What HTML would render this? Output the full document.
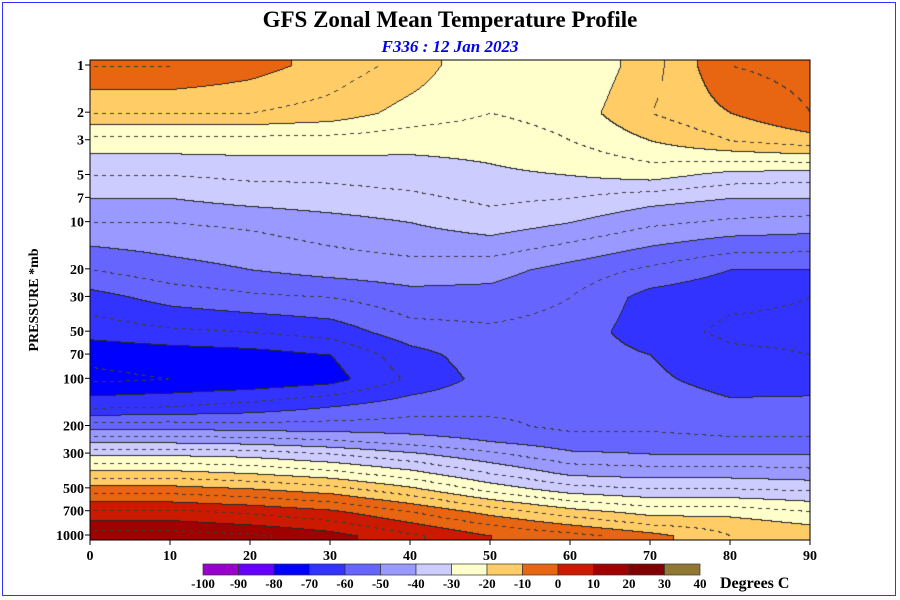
<!DOCTYPE html>
<html><head><meta charset="utf-8"><style>
body{margin:0;background:#fff;}
#wrap{position:relative;width:900px;height:600px;overflow:hidden;font-family:"Liberation Serif",serif;}
#border{position:absolute;left:2px;top:2px;width:894px;height:594px;border:1px solid #3333ff;box-sizing:border-box;}
canvas{position:absolute;left:90px;top:60px;}
.t{position:absolute;font-weight:bold;white-space:nowrap;}
</style></head><body>
<div id="wrap">
<div id="border"></div>
<div class="t" style="left:0;width:900px;text-align:center;top:7px;font-size:23px;">GFS Zonal Mean Temperature Profile</div>
<div class="t" style="left:0;width:900px;text-align:center;top:37px;font-size:17px;color:#0000ee;font-style:italic;">F336 : 12 Jan 2023</div>
<canvas id="cv" width="720" height="480"></canvas>
<svg id="svg" width="900" height="600" style="position:absolute;left:0;top:0"></svg>
</div>
<script>
const lats=[0,10,20,30,40,50,60,70,80,90];
const pressures=[1,2,3,5,7,10,20,30,50,70,100,150,200,250,300,400,500,700,850,1000];
const temps=[
[-5,-5,-8,-12,-17,-25,-25,-17,-5,-3],
[-15,-15,-15,-17,-22,-25,-23,-15,-10,-5],
[-27,-27,-27,-27,-28,-28,-25,-20,-15,-12],
[-35,-35,-34,-34,-33,-31,-30,-28,-32,-33],
[-40,-40,-38,-37,-36,-34,-35,-38,-40,-40],
[-45,-45,-44,-42,-40,-37,-40,-44,-46,-47],
[-55,-52,-50,-48,-47,-48,-52,-56,-60,-60],
[-62,-58,-56,-55,-52,-52,-55,-62,-64,-65],
[-68,-66,-65,-63,-57,-56,-57,-63,-66,-66],
[-74,-73,-72,-70,-62,-57,-57,-60,-64,-65],
[-76,-75,-74,-72,-64,-58,-57,-59,-62,-63],
[-66,-65,-63,-60,-57,-56,-56,-57,-59,-58],
[-52,-52,-53,-53,-53,-54,-56,-56,-57,-57],
[-41,-41,-42,-44,-47,-50,-53,-53,-54,-54],
[-31,-31,-32,-35,-39,-44,-49,-50,-50,-50],
[-18,-18,-20,-23,-28,-35,-41,-42,-42,-43],
[-8,-8,-10,-13,-19,-27,-33,-35,-35,-36],
[6,6,4,1,-5,-12,-18,-22,-22,-25],
[12,12,10,7,1,-5,-10,-15,-17,-20],
[18,18,16,12,6,0,-3,-8,-15,-20]];
const binEdges=[-100,-90,-80,-70,-60,-50,-40,-30,-20,-10,0,10,20,30,40];
const binColors=['#9900cc','#6600ff','#0000ff','#3333ff','#6666ff','#9999ff','#ccccff','#ffffcc','#ffcc66','#e86511','#cc1a00','#a00000','#800000','#917832'];
const xTicks=[0,10,20,30,40,50,60,70,80,90];
const yTicks=[1,2,3,5,7,10,20,30,50,70,100,200,300,500,700,1000];

const X0=90,X1=810,Y0=65,Y1=535;
const xs=v=>X0+(v-0)/90*(X1-X0);
const ys=p=>Y0+Math.log10(p)/3*(Y1-Y0);
function hex(c){return [parseInt(c.substr(1,2),16),parseInt(c.substr(3,2),16),parseInt(c.substr(5,2),16)];}
const rgb=binColors.map(hex);
function field(lat,p){
  const lp=Math.log10(p);
  let i=0;while(i<pressures.length-2&&Math.log10(pressures[i+1])<lp)i++;
  const a=Math.log10(pressures[i]),b=Math.log10(pressures[i+1]);
  let ty=Math.max(0,Math.min(1,(lp-a)/(b-a)));
  let j=Math.min(8,Math.floor(lat/10));let tx=Math.max(0,Math.min(1,(lat-lats[j])/10));
  const v00=temps[i][j],v01=temps[i][j+1],v10=temps[i+1][j],v11=temps[i+1][j+1];
  return (v00*(1-tx)+v01*tx)*(1-ty)+(v10*(1-tx)+v11*tx)*ty;
}
function bin(v){for(let k=0;k<binColors.length;k++)if(v<binEdges[k+1])return k;return binColors.length-1;}
const cv=document.getElementById('cv'),ctx=cv.getContext('2d');
const W=720,H=480,img=ctx.createImageData(W,H);
const bins=new Int16Array(W*H),half=new Int16Array(W*H);
for(let y=0;y<H;y++){const py=60+y;const p=Math.pow(10,(Math.min(Math.max(py,Y0),Y1)-Y0)/(Y1-Y0)*3);
 for(let x=0;x<W;x++){const lat=x/W*90;const v=field(lat,p);bins[y*W+x]=bin(v);half[y*W+x]=Math.floor((v-5)/10);}}
for(let y=0;y<H;y++)for(let x=0;x<W;x++){const k=y*W+x,b=bins[k];let c=rgb[b];
 if((x>0&&bins[k-1]!==b)||(y>0&&bins[k-W]!==b))c=[40,40,40];
 else if(((x>0&&half[k-1]!==half[k])||(y>0&&half[k-W]!==half[k]))&&((x>>2)&1))c=[60,60,60];
 img.data[k*4]=c[0];img.data[k*4+1]=c[1];img.data[k*4+2]=c[2];img.data[k*4+3]=255;}
ctx.putImageData(img,0,0);

const svg=document.getElementById('svg');const NS='http://www.w3.org/2000/svg';
function mk(t,a,txt){const e=document.createElementNS(NS,t);for(const k in a)e.setAttribute(k,a[k]);if(txt!==undefined)e.textContent=txt;svg.appendChild(e);return e;}
let r=mk('rect',{x:90,y:60,width:720,height:480,fill:'none',stroke:'#000','stroke-width':1});


xTicks.forEach(v=>{
 let l=mk('line',{x1:xs(v),x2:xs(v),y1:540,y2:545,stroke:'#000'});
 
 
 let t=mk('text',{x:xs(v),y:560,'text-anchor':'middle','font-size':14,'font-weight':'bold','font-family':'Liberation Serif'},v);
 
 
});
yTicks.forEach(v=>{
 let l=mk('line',{x1:85,x2:90,y1:ys(v),y2:ys(v),stroke:'#000'});
 
 
 let t=mk('text',{x:84,y:ys(v)+5,'text-anchor':'end','font-size':14,'font-weight':'bold','font-family':'Liberation Serif'},v);
 
 
});
let yt=mk('text',{x:38,y:300,'text-anchor':'middle','font-size':14,'font-weight':'bold','font-family':'Liberation Serif',transform:'rotate(-90 38 300)'},'PRESSURE *mb');


const cbx0=203,cbw=35.5;
binColors.forEach((c,k)=>{
 let b=mk('rect',{x:cbx0+k*cbw,y:564,width:cbw,height:11,fill:c,stroke:'#333','stroke-width':0.7});
 
 
});
binEdges.forEach((v,k)=>{
 let t=mk('text',{x:cbx0+k*cbw,y:588,'text-anchor':'middle','font-size':13,'font-weight':'bold','font-family':'Liberation Serif'},v);
 
 
});
let dc=mk('text',{x:720,y:588,'font-size':16,'font-weight':'bold','font-family':'Liberation Serif'},'Degrees C');


</script>
</body></html>
